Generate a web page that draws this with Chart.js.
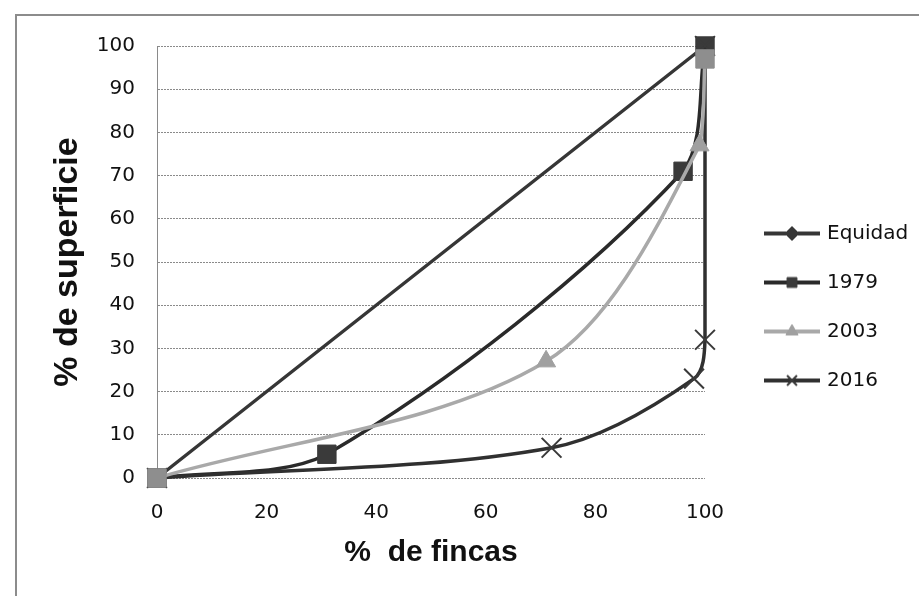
<!DOCTYPE html>
<html>
<head>
<meta charset="utf-8">
<script src="https://cdn.jsdelivr.net/npm/chart.js@4.4.1/dist/chart.umd.min.js"></script>
<style>
  html, body { margin: 0; padding: 0; background: #fff; }
  #wrap { position: relative; width: 919px; height: 596px; overflow: hidden; }
  #frame { position: absolute; left: 15px; top: 14px; width: 920px; height: 600px;
           border-left: 2px solid #8c8c8c; border-top: 2px solid #8c8c8c; }
  #chart { position: absolute; left: 0; top: 0; }
</style>
</head>
<body>
<div id="wrap">
  <div id="frame"></div>
  <canvas id="chart" width="919" height="596"></canvas>
</div>
<script>
// Lorenz curves: % de fincas (x) vs % de superficie (y)
const seriesNames = ["Equidad", "1979", "2003", "2016"];

const equidadX = [0, 100];
const equidadY = [0, 100];

const x1979 = [0, 31, 96, 100];
const y1979 = [0, 5.5, 71, 100];

const x2003 = [0, 71, 99, 100];
const y2003 = [0, 27, 77, 97];

const x2016 = [0, 72, 98, 100, 100];
const y2016 = [0, 7, 23, 32, 100];

const xTicks = [0, 20, 40, 60, 80, 100];
const yTicks = [0, 10, 20, 30, 40, 50, 60, 70, 80, 90, 100];

const toPoints = (xs, ys) => xs.map((x, i) => ({ x, y: ys[i] }));

const tickFont = { family: "DejaVu Sans", size: 20 };
const titleFont = { family: "Liberation Sans", weight: "bold", lineHeight: 1 };
const gridColor = "#8a8a8a";
const LEGEND_W = 174;

const styles = [
  { color: "#363636", marker: "rectRot", mColor: "#363636", r: 7, mw: 1 },
  { color: "#2a2a2a", marker: "rect", mColor: "#3a3a3a", r: 13, mw: 1 },
  { color: "#a9a9a9", marker: "triangle", mColor: "#a0a0a0", r: 11, mw: 1 },
  { color: "#303030", marker: "crossRot", mColor: "#3a3a3a", r: 14, mw: 2 },
];

// small line+marker icons for the legend
const legendIcons = styles.map((s) => {
  const c = document.createElement("canvas");
  c.width = 56; c.height = 20;
  const ctx = c.getContext("2d");
  ctx.strokeStyle = s.color;
  ctx.lineWidth = 4;
  ctx.beginPath(); ctx.moveTo(0, 10); ctx.lineTo(56, 10); ctx.stroke();
  ctx.fillStyle = s.mColor;
  ctx.strokeStyle = s.mColor;
  ctx.lineWidth = s.mw;
  Chart.helpers.drawPoint(ctx, { pointStyle: s.marker, radius: 7, borderWidth: s.mw, rotation: 0 }, 28, 10);
  return c;
});

// keep the legend box wide enough for its longest label
const legendWidthFix = {
  id: "legendWidthFix",
  beforeLayout(chart) {
    const lg = chart.legend;
    if (lg && !lg._wFix) {
      const fit = lg.fit.bind(lg);
      lg.fit = function () { fit(); this.width = LEGEND_W; };
      lg._wFix = true;
    }
  },
};

const seriesData = [
  toPoints(equidadX, equidadY),
  toPoints(x1979, y1979),
  toPoints(x2003, y2003),
  toPoints(x2016, y2016),
];
const drawOrder = [3, 2, 0, 1];
const ends2003 = ["#8e8e8e", "#a0a0a0", "#a0a0a0", "#8e8e8e"];

new Chart(document.getElementById("chart"), {
  type: "line",
  plugins: [legendWidthFix],
  data: {
    datasets: seriesNames.map((name, i) => ({
      label: name,
      data: seriesData[i],
      order: drawOrder[i],
      borderColor: styles[i].color,
      borderWidth: 3.5,
      tension: 0.32,
      clip: false,
      pointStyle: i === 2 ? ["rect", "triangle", "triangle", "rect"] : styles[i].marker,
      pointRadius: i === 2 ? [13, 11, 11, 13] : styles[i].r,
      pointBackgroundColor: i === 2 ? ends2003 : styles[i].mColor,
      pointBorderColor: i === 2 ? ends2003 : styles[i].mColor,
      pointBorderWidth: styles[i].mw,
    })),
  },
  options: {
    responsive: false,
    animation: false,
    events: [],
    layout: { padding: { left: 0, top: 46, right: 7, bottom: 28 } },
    scales: {
      x: {
        type: "linear",
        min: 0,
        max: 100,
        afterBuildTicks: (s) => { s.ticks = xTicks.map((v) => ({ value: v })); },
        afterFit: (s) => { s.height = 90; },
        grid: { display: false, drawTicks: false },
        border: { display: false },
        ticks: { font: tickFont, color: "#111", padding: 23, maxRotation: 0 },
        title: { display: true, text: "%  de fincas", color: "#111", font: { ...titleFont, size: 30 }, padding: { top: 0, bottom: 0 } },
      },
      y: {
        min: 0,
        max: 100,
        afterBuildTicks: (s) => { s.ticks = yTicks.map((v) => ({ value: v })); },
        afterFit: (s) => { s.width = 157; },
        grid: { color: gridColor, lineWidth: 1, drawTicks: false },
        border: { display: true, color: gridColor, width: 1, dash: [2, 1] },
        ticks: { font: tickFont, color: "#111", padding: 22 },
        title: { display: true, text: "% de superficie", color: "#111", font: { ...titleFont, size: 34 }, padding: { top: 51, bottom: 0 } },
      },
      gap: {
        type: "linear",
        position: "right",
        display: true,
        afterFit: (s) => { s.width = 33; },
        grid: { display: false, drawTicks: false },
        border: { display: false },
        ticks: { display: false },
      },
    },
    plugins: {
      tooltip: { enabled: false },
      legend: {
        position: "right",
        align: "center",
        labels: {
          usePointStyle: true,
          pointStyleWidth: 50,
          padding: 29,
          color: "#111",
          font: { family: "DejaVu Sans", size: 20 },
          generateLabels: (chart) => chart.data.datasets.map((ds, i) => ({
            text: ds.label,
            pointStyle: legendIcons[i],
            fillStyle: "transparent",
            strokeStyle: "transparent",
            lineWidth: 0,
            fontColor: "#111",
            hidden: false,
            datasetIndex: i,
          })),
        },
      },
    },
  },
});
</script>
</body>
</html>
